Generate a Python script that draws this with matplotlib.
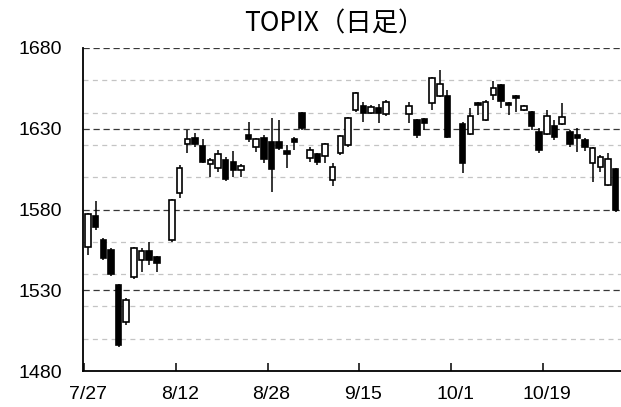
import numpy as np
import pandas as pd
import matplotlib
matplotlib.use("Agg")
import matplotlib.pyplot as plt

nan = np.nan

# every weekday 7/27 - 10/30 (2020); holidays / no-trade days are nan
dates = [d.strftime("%-m/%-d") for d in pd.bdate_range("2020-07-27", "2020-10-30")]

opens = [
    1557, 1576, 1561, 1555, 1533,
    1510.5, 1538, 1548.7, 1554, 1550.5,
    nan, 1561, 1590, 1620.5, 1624,
    1619.3, 1608.2, 1605.6, 1610.7, 1609.6,
    1604.5, 1626, 1618.9, 1624, 1622,
    1622, 1616, 1623.5, 1639.6, 1611.7,
    1614.4, 1613.1, 1598.3, 1615.2, 1620,
    1641.6, 1644, 1639.6, 1642.7, 1639,
    nan, nan, 1639, 1635.4, 1635.9,
    1646.1, 1650.3, 1650.3, nan, 1633,
    1626.7, 1645.8, 1635.4, 1650.9, 1657,
    1645.8, 1650.3, 1641.6, 1640.6, 1628.2,
    1626.7, 1631.7, 1633, 1628.2, 1626.1,
    1623, 1609, 1606.5, 1595.2, 1604.9,
]
highs = [
    1578, 1585, 1562.5, 1556, 1534,
    1525, 1557, 1556, 1560, 1551.5,
    nan, 1586.5, 1607.6, 1629.2, 1627.5,
    1623.5, 1612, 1617, 1612.7, 1616.4,
    1608, 1634.4, 1624, 1626, 1636.5,
    1635.4, 1620, 1624.7, 1640.2, 1618.9,
    1615, 1621, 1608.6, 1626, 1637,
    1653, 1646.8, 1644.7, 1645.3, 1647.5,
    nan, nan, 1646.8, 1636, 1636.5,
    1662, 1666.4, 1654, nan, 1634.4,
    1642.7, 1646.8, 1647.5, 1659.5, 1657.5,
    1646.5, 1650.8, 1645, 1641, 1630.3,
    1641.6, 1635.4, 1645.8, 1629, 1630.3,
    1624, 1619, 1614, 1615.2, 1605.5,
]
lows = [
    1552, 1567, 1549, 1539, 1495,
    1508.5, 1537, 1541.5, 1545.6, 1541,
    nan, 1560, 1587, 1614.8, 1619,
    1608.6, 1600.3, 1603.4, 1597.9, 1600.3,
    1600, 1622, 1615.8, 1609, 1591,
    1616.8, 1606, 1616.8, 1629.5, 1609.6,
    1607.6, 1609, 1594.6, 1613.7, 1619,
    1640.6, 1634.4, 1639, 1633.8, 1638,
    nan, nan, 1633.4, 1624, 1629.2,
    1641.6, 1649.5, 1624, nan, 1602.4,
    1626, 1638.5, 1634.5, 1648, 1642.7,
    1638.5, 1640.6, 1641, 1629.2, 1615.2,
    1626, 1623, 1632.5, 1618.5, 1615.8,
    1616, 1597.2, 1603.4, 1594.5, 1578.7,
]
closes = [
    1577, 1569, 1550, 1540, 1496,
    1524, 1556, 1554.5, 1548.7, 1546.7,
    nan, 1586, 1605.5, 1623.6, 1620.5,
    1609.6, 1610.7, 1614.4, 1598.7, 1604.5,
    1607.1, 1623.5, 1623.5, 1611, 1605,
    1618, 1614.5, 1621.5, 1630.3, 1616.8,
    1609.6, 1620.4, 1606.1, 1625.5, 1636.5,
    1652, 1640, 1643.3, 1639.6, 1646.8,
    nan, nan, 1644, 1626.4, 1633.4,
    1661.2, 1657.7, 1624.7, nan, 1609,
    1637.9, 1644.5, 1646.8, 1655, 1647.4,
    1644.5, 1649, 1644, 1631.7, 1616.8,
    1637.9, 1625.1, 1637.5, 1620.6, 1624,
    1618.5, 1617.9, 1612.7, 1611.1, 1579.7,
]

tick_dates = ["7/27", "8/12", "8/28", "9/15", "10/1", "10/19"]
major_levels = [1480, 1530, 1580, 1630, 1680]
minor_levels = [1500, 1520, 1540, 1560, 1600, 1620, 1640, 1660]

o = np.array(opens)
h = np.array(highs)
l = np.array(lows)
c = np.array(closes)
x = np.arange(len(dates))
ok = ~np.isnan(o)

label_font = ["Liberation Sans", "DejaVu Sans"]

fig = plt.figure(figsize=(6.21, 4.07), dpi=100)
ax = fig.add_axes([83 / 621, 36 / 407, 1 - 83 / 621, 323 / 407])

# grid lines
for lv in minor_levels:
    ax.axhline(lv, color="#c4c4c4", lw=0.9, linestyle=(0, (4, 3.5)), zorder=0)
for lv in major_levels[1:]:
    ax.axhline(lv, color="#383838", lw=0.9, linestyle=(0, (5, 3)), zorder=0)

# wicks
ax.vlines(x[ok], l[ok], h[ok], color="black", lw=1.1, zorder=1)

# bodies
up = ok & (c >= o)
bot = np.minimum(o, c)
hgt = np.maximum(np.abs(c - o), 0.6)
face = np.where(up, "white", "black")
ax.bar(x[ok], hgt[ok], bottom=bot[ok], width=0.72, color=face[ok],
       edgecolor="black", linewidth=1.2, zorder=2)

ax.set_xlim(-0.65, 69.7)
ax.set_ylim(1480, 1680)

for s in ["top", "right"]:
    ax.spines[s].set_visible(False)
ax.spines["left"].set_linewidth(1.3)
ax.spines["bottom"].set_linewidth(1.3)

# y axis: labels only
ax.set_yticks(major_levels)
ax.set_yticklabels([str(v) for v in major_levels], fontsize=14, family=label_font)
ax.tick_params(axis="y", length=0, pad=15)

# x axis: tick marks at day boundary, labels centred on the day
pos = [dates.index(d) for d in tick_dates]
ax.set_xticks([p - 0.5 for p in pos])
ax.set_xticklabels([])
ax.tick_params(axis="x", which="major", direction="in", length=6, width=1.1)
ax.set_xticks(pos, minor=True)
ax.set_xticklabels(tick_dates, minor=True, fontsize=14, family=label_font)
ax.tick_params(axis="x", which="minor", length=0, pad=11)

fig.text(334 / 621, 1 - 24 / 407, "TOPIX（日足）", ha="center", va="center",
         fontsize=19, family=["Noto Sans CJK JP", "DejaVu Sans"])

fig.savefig("out.png", dpi=100)
